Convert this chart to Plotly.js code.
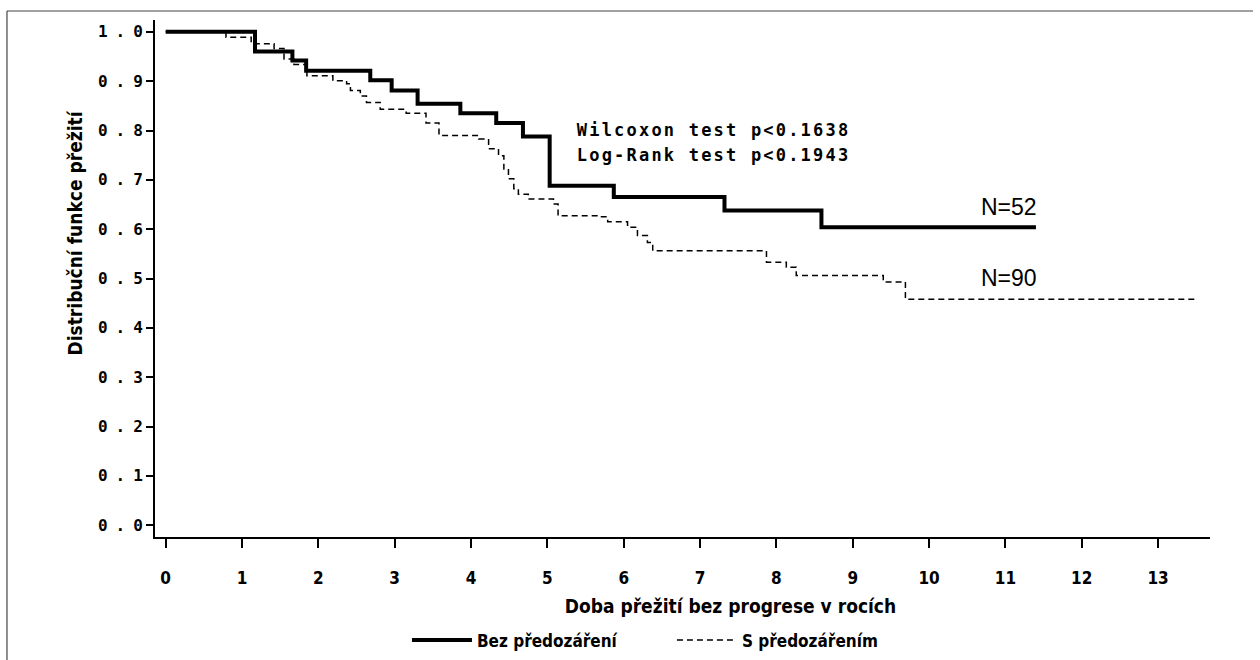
<!DOCTYPE html>
<html>
<head>
<meta charset="utf-8">
<script src="https://cdn.plot.ly/plotly-3.0.1.min.js"></script>
<style>
  html, body { margin: 0; padding: 0; background: #fff; }
  #chart { width: 1260px; height: 660px; }
  .ytick text { letter-spacing: 8px; }
  .annotation[data-index="0"] .annotation-text,
  .annotation[data-index="1"] .annotation-text { letter-spacing: 2.2px; }
  .g-xtitle { transform: translate(48px, 0px); }
  .g-ytitle { transform: translate(0px, -45px); }
</style>
</head>
<body>
<div id="chart"></div>
<script>
// Kaplan–Meier step data
const seriesNames = ["Bez předozáření", "S předozářením"];

const timeBez = [0, 1.17, 1.66, 1.84, 2.68, 2.96, 3.30, 3.86, 4.33, 4.68, 5.03, 5.87, 7.32, 8.59, 11.40];
const survBez = [1.0, 0.960, 0.942, 0.921, 0.902, 0.881, 0.854, 0.835, 0.815, 0.788, 0.688, 0.665, 0.638, 0.604, 0.604];

const timeS = [0, 0.79, 1.12, 1.42, 1.55, 1.68, 1.85, 2.19, 2.37, 2.42, 2.55, 2.63, 2.81, 3.15, 3.41, 3.58, 4.10, 4.23, 4.36, 4.43, 4.49, 4.56, 4.62, 4.75, 5.08, 5.14, 5.66, 5.79, 6.05, 6.18, 6.31, 6.38, 7.87, 8.13, 8.26, 9.40, 9.69, 13.49];
const survS = [1.0, 0.989, 0.976, 0.966, 0.945, 0.934, 0.911, 0.901, 0.895, 0.881, 0.870, 0.857, 0.843, 0.835, 0.815, 0.790, 0.783, 0.763, 0.749, 0.722, 0.702, 0.682, 0.671, 0.661, 0.651, 0.627, 0.625, 0.615, 0.604, 0.587, 0.573, 0.556, 0.533, 0.523, 0.506, 0.493, 0.458, 0.458];

const xTickVals = [0,1,2,3,4,5,6,7,8,9,10,11,12,13];
const yTickVals = [0,0.1,0.2,0.3,0.4,0.5,0.6,0.7,0.8,0.9,1.0];
const yTickText = ["0.0","0.1","0.2","0.3","0.4","0.5","0.6","0.7","0.8","0.9","1.0"];

const testLabels = ["Wilcoxon test p<0.1638", "Log-Rank test p<0.1943"];
const nLabels = ["N=52", "N=90"];

const narrow = "Liberation Sans Narrow, DejaVu Sans Condensed, Liberation Sans, sans-serif";
const mono = "DejaVu Sans Mono, Liberation Mono, monospace";

const traces = [
  {
    x: timeBez, y: survBez, name: seriesNames[0], type: "scatter", mode: "lines",
    line: { shape: "hv", color: "#000", width: 4 }, hoverinfo: "skip"
  },
  {
    x: timeS, y: survS, name: seriesNames[1], type: "scatter", mode: "lines",
    line: { shape: "hv", color: "#000", width: 1.5, dash: "6px,4px" }, hoverinfo: "skip"
  }
];

const layout = {
  width: 1260, height: 660,
  margin: { l: 155, r: 50, t: 20, b: 123, autoexpand: false },
  paper_bgcolor: "#fff", plot_bgcolor: "#fff",
  showlegend: true,
  legend: {
    orientation: "h", x: 0.49, xanchor: "center", y: -0.2, yanchor: "middle",
    font: { family: narrow, size: 17, weight: "bold", color: "#000" },
    itemwidth: 60, entrywidth: 190
  },
  xaxis: {
    range: [-0.14, 13.68], tickvals: xTickVals, ticks: "outside", ticklen: 9, tickwidth: 2,
    tickcolor: "#000", showline: true, linewidth: 2, linecolor: "#000",
    showgrid: false, zeroline: false, ticklabelstandoff: 16,
    tickfont: { family: narrow, size: 17, weight: "bold", color: "#000" },
    title: { text: "Doba přežití bez progrese v rocích", standoff: 12,
             font: { family: narrow, size: 19, weight: "bold", color: "#000" } }
  },
  yaxis: {
    range: [-0.024, 1.024], tickvals: yTickVals, ticktext: yTickText, ticks: "outside",
    ticklen: 7, tickwidth: 2, tickcolor: "#000", showline: true, linewidth: 2, linecolor: "#000",
    showgrid: false, zeroline: false, ticklabelstandoff: -8,
    tickfont: { family: mono, size: 16, weight: "bold", color: "#000" },
    title: { text: "Distribuční funkce přežití", standoff: 10,
             font: { family: narrow, size: 19, weight: "bold", color: "#000" } }
  },
  annotations: [
    { x: 5.67, y: 0.801, xref: "x", yref: "y", text: testLabels[0], showarrow: false,
      xanchor: "left", yanchor: "middle", font: { family: mono, size: 17, weight: "bold", color: "#000" } },
    { x: 5.67, y: 0.750, xref: "x", yref: "y", text: testLabels[1], showarrow: false,
      xanchor: "left", yanchor: "middle", font: { family: mono, size: 17, weight: "bold", color: "#000" } },
    { x: 11.05, y: 0.645, xref: "x", yref: "y", text: nLabels[0], showarrow: false,
      xanchor: "center", yanchor: "middle", font: { family: "Liberation Sans, Arial, sans-serif", size: 23, color: "#000" } },
    { x: 11.05, y: 0.501, xref: "x", yref: "y", text: nLabels[1], showarrow: false,
      xanchor: "center", yanchor: "middle", font: { family: "Liberation Sans, Arial, sans-serif", size: 23, color: "#000" } }
  ],
  shapes: [
    { type: "line", xref: "paper", yref: "paper", x0: -0.1403, x1: 1.0408, y0: 1.0174, y1: 1.0174,
      line: { color: "#444", width: 1.2 } },
    { type: "line", xref: "paper", yref: "paper", x0: -0.1403, x1: -0.1403, y0: 1.0174, y1: -0.245,
      line: { color: "#444", width: 1.2 } }
  ]
};

Plotly.newPlot("chart", traces, layout, { displayModeBar: false, staticPlot: true });
</script>
</body>
</html>
